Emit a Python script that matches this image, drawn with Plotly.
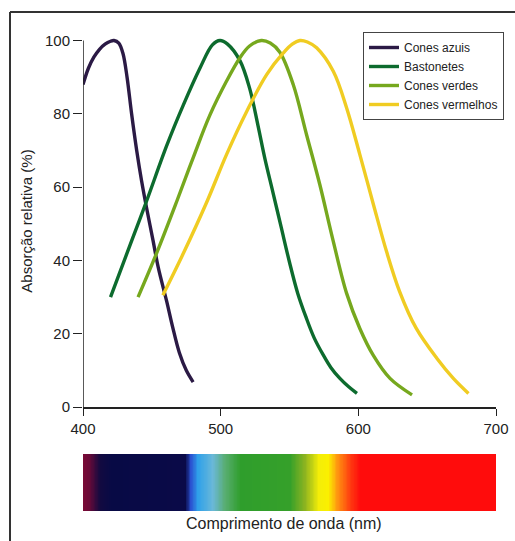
import numpy as np
import plotly.graph_objects as go

# ---- data ----
azuis_nm = [400, 404, 408, 412, 416, 420, 422.5, 426, 429, 432, 435.3, 439, 442.6, 446.2, 451, 454.7, 460.8, 465, 470, 475, 480]
azuis_val = [88, 92.5, 95.5, 97.6, 99, 99.8, 100, 99.3, 96.5, 90, 80, 70, 61.6, 54.3, 45.2, 38, 28.8, 22, 14.8, 10, 6.8]

bast_nm = [420, 436, 446, 461, 473, 485, 494, 499.5, 505, 514, 521, 527, 532, 538, 544, 550, 556, 562, 568, 574.5, 580, 586.6, 593, 599]
bast_val = [30, 46, 56, 71.5, 82.5, 92.5, 98.8, 100, 99, 94.5, 87, 77, 68, 58.5, 49, 39.5, 31, 24.5, 18.8, 14.2, 10.8, 7.8, 5.5, 3.7]

verdes_nm = [440, 453.5, 468, 480, 492, 504.4, 514, 521, 529.5, 536, 543, 552.7, 562.4, 572, 581.8, 591.5, 601, 611, 623, 639]
verdes_val = [30, 42, 56, 68, 79.5, 89, 95.3, 98.5, 100, 99.3, 96.8, 88, 74.3, 60.7, 45.2, 31, 21.5, 14, 7.8, 3.3]

verm_nm = [458, 473, 490, 504.4, 519, 533.4, 545.5, 552, 557.6, 563, 569.7, 581.8, 591.5, 601, 611, 620.5, 630, 642, 657, 669, 680]
verm_val = [30.5, 42, 56, 69, 80.7, 90.7, 96.6, 99, 100, 99.6, 98, 91.6, 81.6, 69, 55.2, 42.4, 31.5, 21.5, 13.3, 7.8, 3.7]

series_names = ["Cones azuis", "Bastonetes", "Cones verdes", "Cones vermelhos"]
series_colors = ["#2b1a45", "#0d6b2e", "#76a81e", "#f0cc22"]

x_ticks = [400, 500, 600, 700]
y_ticks = [0, 20, 40, 60, 80, 100]

# visible-spectrum colour stops (wavelength, colour)
spectrum_nm = [400, 404, 412, 420, 474, 478, 483, 494, 503, 514, 550, 561, 571, 578, 584, 594, 601, 700]
spectrum_colors = ["#7a0a35", "#6a0a38", "#120a40", "#080a45", "#0a0a48", "#2a50d0", "#2ea0ea",
                   "#6ab8d8", "#58ad70", "#2f9e2c", "#35a02a", "#8eb420", "#f4ee08", "#fbf000",
                   "#ff9a10", "#ff3a10", "#ff0c0c", "#ff0c0c"]

FONT = "Liberation Sans, Arial, sans-serif"

fig = go.Figure()

for nm, val, name, col in zip([azuis_nm, bast_nm, verdes_nm, verm_nm],
                              [azuis_val, bast_val, verdes_val, verm_val],
                              series_names, series_colors):
    fig.add_trace(go.Scatter(x=nm, y=val, mode="lines", name=name,
                             line=dict(color=col, width=3.4, shape="spline", smoothing=1.0),
                             xaxis="x", yaxis="y"))

# spectrum bar
grid = np.linspace(400, 700, 301)
cs = [[(w - 400) / 300.0, c] for w, c in zip(spectrum_nm, spectrum_colors)]
fig.add_trace(go.Heatmap(x=grid, y=[0, 1], z=[grid, grid], colorscale=cs, zmin=400, zmax=700,
                         showscale=False, zsmooth="best", hoverinfo="skip",
                         xaxis="x2", yaxis="y2"))

W, H = 515, 541
ml, mr, mt, mb = 83, 19, 35, 30
ph = H - mt - mb
pw = W - ml - mr

def py(pix):  # pixel y -> paper y
    return (H - mb - pix) / ph

def px(pix):
    return (pix - ml) / pw

fig.update_layout(
    width=W, height=H,
    margin=dict(l=ml, r=mr, t=mt, b=mb, autoexpand=False),
    paper_bgcolor="white", plot_bgcolor="white",
    font=dict(family=FONT, color="#222", size=15),
    showlegend=True,
    legend=dict(x=px(363), y=py(32), xanchor="left", yanchor="top",
                bordercolor="#444", borderwidth=1, bgcolor="white",
                font=dict(size=12, family=FONT, color="#222"),
                tracegroupgap=0, itemwidth=30),
    xaxis=dict(domain=[0, 1], range=[400, 700], tickvals=x_ticks, ticks="outside", ticklen=7,
               tickwidth=1.2, tickcolor="#222", showline=True, linecolor="#222", linewidth=1.5,
               showgrid=False, zeroline=False, anchor="y", tickfont=dict(size=15), automargin=False),
    yaxis=dict(domain=[py(407), 1], range=[0, 101.5], tickvals=y_ticks, ticks="outside", ticklen=9,
               tickwidth=1.2, tickcolor="#222", showline=False, showgrid=False, zeroline=False,
               anchor="x", tickfont=dict(size=15), automargin=False,
               title=dict(text="Absorção relativa (%)", font=dict(size=15), standoff=8)),
    xaxis2=dict(domain=[0, 1], range=[400, 700], anchor="y2", visible=False),
    yaxis2=dict(domain=[0, py(454)], range=[0, 1], anchor="x2", visible=False),
    shapes=[
        dict(type="line", xref="x", yref="y", x0=400, x1=400, y0=0, y1=100,
             line=dict(color="#222", width=1.5), layer="above"),
        dict(type="line", xref="paper", yref="paper", x0=px(10), x1=px(515), y0=py(12), y1=py(12),
             line=dict(color="#333", width=2)),
        dict(type="line", xref="paper", yref="paper", x0=px(10), x1=px(10), y0=py(12), y1=py(541),
             line=dict(color="#333", width=2)),
    ],
    annotations=[
        dict(text="Comprimento de onda (nm)", xref="x", yref="paper", x=546, y=py(523),
             xanchor="center", yanchor="middle", showarrow=False, font=dict(size=16, family=FONT, color="#222")),
    ],
)

fig.write_html("out.html", config={"displayModeBar": False},
               post_script="document.body.style.margin='0';document.body.style.overflow='hidden';")
